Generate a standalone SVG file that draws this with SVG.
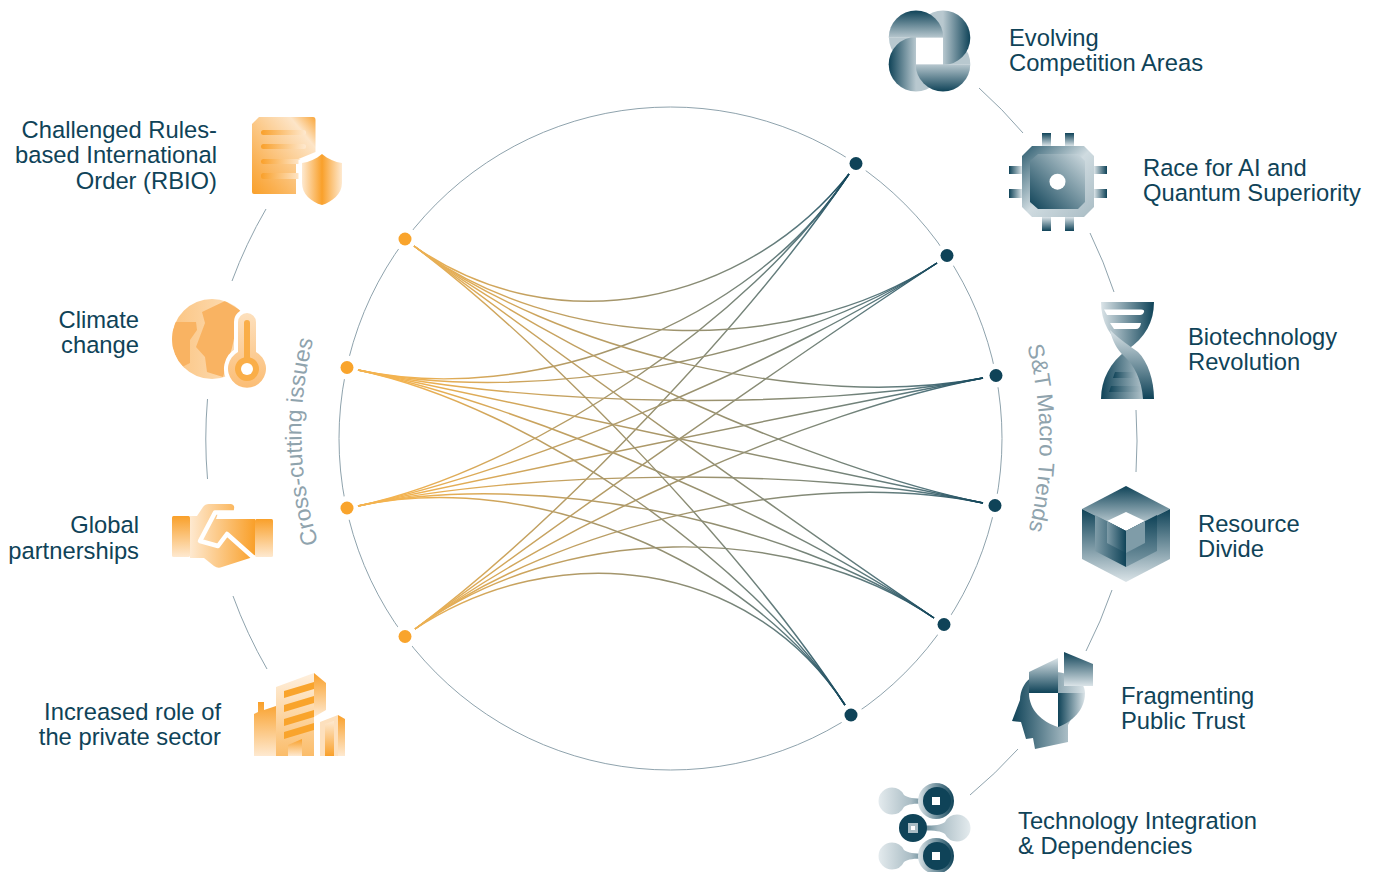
<svg xmlns="http://www.w3.org/2000/svg" xmlns:xlink="http://www.w3.org/1999/xlink" width="1376" height="872" viewBox="0 0 1376 872">
<style>
text{font-family:"Liberation Sans",Arial,sans-serif}
.lb{font-size:23.75px;fill:#0f4358}
.e{text-anchor:end}
.cur{font-size:22.9px;fill:#8fa3ad}
.ring{fill:none;stroke:#8fa3ad;stroke-width:1}
.c{fill:none;stroke-width:1.45}
.h{fill:#fff}
.o{fill:#f9a42c}
.t{fill:#0f4358}
</style>
<defs>
<linearGradient id="tV" x1="0" y1="0" x2="0" y2="1"><stop offset="0" stop-color="#0f4358"/><stop offset="1" stop-color="#dbe4e8"/></linearGradient>
<linearGradient id="tV2" x1="0" y1="0" x2="0" y2="1"><stop offset="0" stop-color="#dbe4e8"/><stop offset="1" stop-color="#0f4358"/></linearGradient>
<linearGradient id="tH" x1="0" y1="0" x2="1" y2="0"><stop offset="0" stop-color="#0f4358"/><stop offset="1" stop-color="#dbe4e8"/></linearGradient>
<linearGradient id="tH2" x1="0" y1="0" x2="1" y2="0"><stop offset="0" stop-color="#dbe4e8"/><stop offset="1" stop-color="#0f4358"/></linearGradient>
<linearGradient id="mV" x1="0" y1="0" x2="0" y2="1"><stop offset="0" stop-color="#0f4358"/><stop offset="1" stop-color="#b8c8cf"/></linearGradient>
<linearGradient id="mV2" x1="0" y1="0" x2="0" y2="1"><stop offset="0" stop-color="#b8c8cf"/><stop offset="1" stop-color="#0f4358"/></linearGradient>
<linearGradient id="mH" x1="0" y1="0" x2="1" y2="0"><stop offset="0" stop-color="#0f4358"/><stop offset="1" stop-color="#b8c8cf"/></linearGradient>
<linearGradient id="mH2" x1="0" y1="0" x2="1" y2="0"><stop offset="0" stop-color="#b8c8cf"/><stop offset="1" stop-color="#0f4358"/></linearGradient>
<linearGradient id="pL" x1="0" y1="0" x2="1" y2="0"><stop offset="0" stop-color="#e4ebee"/><stop offset=".7" stop-color="#a9bcc4"/><stop offset="1" stop-color="#5f8492"/></linearGradient>
<linearGradient id="pR" x1="0" y1="0" x2="1" y2="0"><stop offset="0" stop-color="#5f8492"/><stop offset=".3" stop-color="#a9bcc4"/><stop offset="1" stop-color="#e4ebee"/></linearGradient>
<linearGradient id="bH" x1="0" y1="0" x2="1" y2="0"><stop offset="0" stop-color="#7f9ca8"/><stop offset="1" stop-color="#0f4358"/></linearGradient>
<linearGradient id="bV" x1="0" y1="0" x2="0" y2="1"><stop offset="0" stop-color="#0f4358"/><stop offset="1" stop-color="#7f9ca8"/></linearGradient>
<linearGradient id="tD" x1="0" y1="1" x2="1" y2="0"><stop offset="0" stop-color="#0f4358"/><stop offset="1" stop-color="#cfdbe0"/></linearGradient>
<linearGradient id="tD2" x1="0" y1="0" x2="1" y2="1"><stop offset="0" stop-color="#2b5b6e"/><stop offset=".5" stop-color="#cfdbe0"/><stop offset="1" stop-color="#a9bcc4"/></linearGradient>
<linearGradient id="oV" x1="0" y1="0" x2="0" y2="1"><stop offset="0" stop-color="#f9a02a"/><stop offset="1" stop-color="#fee9d0"/></linearGradient>
<linearGradient id="oV2" x1="0" y1="0" x2="0" y2="1"><stop offset="0" stop-color="#fee9d0"/><stop offset="1" stop-color="#f9a02a"/></linearGradient>
<linearGradient id="oH" x1="0" y1="0" x2="1" y2="0"><stop offset="0" stop-color="#f9a02a"/><stop offset="1" stop-color="#fee9d0"/></linearGradient>
<linearGradient id="oH2" x1="0" y1="0" x2="1" y2="0"><stop offset="0" stop-color="#fee9d0"/><stop offset="1" stop-color="#f9a02a"/></linearGradient>
<linearGradient id="oD" x1="1" y1="0" x2="0" y2="1"><stop offset="0" stop-color="#f9a63a"/><stop offset=".2" stop-color="#fde5c8"/><stop offset=".8" stop-color="#faaf4e"/><stop offset="1" stop-color="#f9a02a"/></linearGradient>
<linearGradient id="oG" x1="0" y1="0" x2="1" y2="0"><stop offset="0" stop-color="#fbc583"/><stop offset="1" stop-color="#fde3c2"/></linearGradient>
<linearGradient id="oT" x1="0" y1="0" x2="0" y2="1"><stop offset="0" stop-color="#fde0bd"/><stop offset="1" stop-color="#fbbd75"/></linearGradient>
<linearGradient id="e1" gradientUnits="userSpaceOnUse" x1="400" y1="0" x2="849" y2="0"><stop offset="0" stop-color="#f3b350"/><stop offset=".45" stop-color="#a8976a"/><stop offset=".72" stop-color="#7f8878"/><stop offset=".9" stop-color="#55767d"/><stop offset="1" stop-color="#0f4358"/></linearGradient>
<linearGradient id="e2" gradientUnits="userSpaceOnUse" x1="400" y1="0" x2="937" y2="0"><stop offset="0" stop-color="#f3b350"/><stop offset=".45" stop-color="#a8976a"/><stop offset=".72" stop-color="#7f8878"/><stop offset=".9" stop-color="#55767d"/><stop offset="1" stop-color="#0f4358"/></linearGradient>
<linearGradient id="e3" gradientUnits="userSpaceOnUse" x1="400" y1="0" x2="983" y2="0"><stop offset="0" stop-color="#f3b350"/><stop offset=".45" stop-color="#a8976a"/><stop offset=".72" stop-color="#7f8878"/><stop offset=".9" stop-color="#55767d"/><stop offset="1" stop-color="#0f4358"/></linearGradient>
<linearGradient id="e5" gradientUnits="userSpaceOnUse" x1="400" y1="0" x2="934" y2="0"><stop offset="0" stop-color="#f3b350"/><stop offset=".45" stop-color="#a8976a"/><stop offset=".72" stop-color="#7f8878"/><stop offset=".9" stop-color="#55767d"/><stop offset="1" stop-color="#0f4358"/></linearGradient>
<linearGradient id="e6" gradientUnits="userSpaceOnUse" x1="400" y1="0" x2="845" y2="0"><stop offset="0" stop-color="#f3b350"/><stop offset=".45" stop-color="#a8976a"/><stop offset=".72" stop-color="#7f8878"/><stop offset=".9" stop-color="#55767d"/><stop offset="1" stop-color="#0f4358"/></linearGradient>
<clipPath id="globe"><circle cx="212" cy="339" r="40"/></clipPath>
<path id="arcL" d="M319 545 A368 368 0 0 1 316 330"/>
<path id="arcR" d="M1027 345 A368 368 0 0 1 1026 540"/>
</defs>

<g id="rings">
<circle class="ring" cx="670.5" cy="438.5" r="331.5"/>
<path class="ring" d="M979 88 A465 465 0 0 1 1023 133"/>
<path class="ring" d="M1090 233 A465 465 0 0 1 1114 292"/>
<path class="ring" d="M1136 410 A465 465 0 0 1 1136 472"/>
<path class="ring" d="M1112 590 A465 465 0 0 1 1086 651"/>
<path class="ring" d="M1018 749 A465 465 0 0 1 970 795"/>
<path class="ring" d="M266 209 A465 465 0 0 0 232 281"/>
<path class="ring" d="M207.5 399 A465 465 0 0 0 207.5 479"/>
<path class="ring" d="M233 596 A465 465 0 0 0 267 669"/>
</g>

<g id="dot-l1"><circle class="h" cx="405" cy="239" r="12"/><circle class="o" cx="405" cy="239" r="6.5"/></g>
<g id="dot-l2"><circle class="h" cx="347" cy="367.5" r="12"/><circle class="o" cx="347" cy="367.5" r="6.5"/></g>
<g id="dot-l3"><circle class="h" cx="347" cy="508" r="12"/><circle class="o" cx="347" cy="508" r="6.5"/></g>
<g id="dot-l4"><circle class="h" cx="405" cy="636.5" r="12"/><circle class="o" cx="405" cy="636.5" r="6.5"/></g>
<g id="dot-r1"><circle class="h" cx="856" cy="163.5" r="12"/><circle class="t" cx="856" cy="163.5" r="6.5"/></g>
<g id="dot-r2"><circle class="h" cx="947" cy="255.5" r="12"/><circle class="t" cx="947" cy="255.5" r="6.5"/></g>
<g id="dot-r3"><circle class="h" cx="996" cy="375.5" r="12"/><circle class="t" cx="996" cy="375.5" r="6.5"/></g>
<g id="dot-r4"><circle class="h" cx="995" cy="505.5" r="12"/><circle class="t" cx="995" cy="505.5" r="6.5"/></g>
<g id="dot-r5"><circle class="h" cx="944" cy="624.5" r="12"/><circle class="t" cx="944" cy="624.5" r="6.5"/></g>
<g id="dot-r6"><circle class="h" cx="851" cy="715" r="12"/><circle class="t" cx="851" cy="715" r="6.5"/></g>

<g id="connectors">
<g class="c" stroke="url(#e1)">
<path d="M414 246 C555 345 745 305 849 174"/>
<path d="M358 370 C530 407 751 325 849 174"/>
<path d="M358 506 C530 469 751 319 849 174"/>
<path d="M415 629 C556 524 751 319 849 174"/>
</g>
<g class="c" stroke="url(#e2)">
<path d="M414 246 C555 352 791 359 937 263"/>
<path d="M358 370 C530 407 791 359 937 263"/>
<path d="M358 506 C530 469 791 359 937 263"/>
<path d="M415 629 C556 524 791 359 937 263"/>
</g>
<g class="c" stroke="url(#e3)">
<path d="M414 246 C555 352 811 411 983 378"/>
<path d="M358 370 C530 407 811 411 983 378"/>
<path d="M358 506 C530 469 811 411 983 378"/>
<path d="M415 629 C556 524 811 411 983 378"/>
</g>
<g class="c" stroke="url(#e3)">
<path d="M414 246 C555 352 811 467 983 503"/>
<path d="M358 370 C530 407 811 467 983 503"/>
<path d="M358 506 C530 469 811 467 983 503"/>
<path d="M415 629 C556 524 811 467 983 503"/>
</g>
<g class="c" stroke="url(#e5)">
<path d="M414 246 C555 352 789 519 934 618"/>
<path d="M358 370 C530 407 789 519 934 618"/>
<path d="M358 506 C530 469 789 519 934 618"/>
<path d="M415 629 C556 524 789 519 934 618"/>
</g>
<g class="c" stroke="url(#e6)">
<path d="M414 246 C555 352 749 558 845 705"/>
<path d="M358 370 C530 407 749 558 845 705"/>
<path d="M358 506 C530 469 749 558 845 705"/>
<path d="M415 629 C556 536 749 558 845 705"/>
</g>
</g>

<text class="cur"><textPath href="#arcL" xlink:href="#arcL" startOffset="2">Cross-cutting issues</textPath></text>
<text class="cur" style="font-size:22.4px"><textPath href="#arcR" xlink:href="#arcR" startOffset="1">S&amp;T Macro Trends</textPath></text>

<g id="evolving">
<path d="M889 37.7 A27.3 27.3 0 0 0 916 65 V37.7Z" fill="#b8c8cf"/>
<path d="M943 10.4 A27.3 27.3 0 0 0 916 37.7 H943Z" fill="#b8c8cf"/>
<path d="M970.3 64.3 A27.3 27.3 0 0 0 943 37 V64.3Z" fill="#b8c8cf"/>
<path d="M916 91.6 A27.3 27.3 0 0 0 943 64.3 H916Z" fill="#b8c8cf"/>
<path d="M888.7 37.7 A27.3 27.3 0 0 1 943.3 37.7Z" fill="url(#mV)"/>
<path d="M943 10.4 A27.3 27.3 0 0 1 943 65Z" fill="url(#mH2)"/>
<path d="M970.3 64.3 A27.3 27.3 0 0 1 915.7 64.3Z" fill="url(#mV2)"/>
<path d="M916 91.6 A27.3 27.3 0 0 1 916 37Z" fill="url(#mH)"/>
<rect class="h" x="916" y="37.7" width="27" height="26.6"/>
<text class="lb" x="1009" y="46">Evolving</text>
<text class="lb" x="1009" y="71">Competition Areas</text>
</g>

<g id="ai-quantum">
<rect x="1042" y="133" width="9" height="13" fill="url(#tV)"/><rect x="1065" y="133" width="9" height="13" fill="url(#tV)"/>
<rect x="1042" y="217" width="9" height="14" fill="url(#tV2)"/><rect x="1065" y="217" width="9" height="14" fill="url(#tV2)"/>
<rect x="1009" y="166" width="13" height="8" fill="url(#tH)"/><rect x="1009" y="189" width="13" height="9" fill="url(#tH)"/>
<rect x="1094" y="166" width="13" height="8" fill="url(#tH2)"/><rect x="1094" y="189" width="13" height="9" fill="url(#tH2)"/>
<path d="M1032 146 H1084 L1094 156 V207 L1084 217 H1032 L1022 207 V156Z" fill="url(#tD2)"/>
<path d="M1038 154 H1078 L1085 161 V202 L1078 209 H1038 L1030 202 V161Z" fill="url(#tD)"/>
<circle class="h" cx="1057.5" cy="181.7" r="8"/>
<text class="lb" x="1143" y="176">Race for AI and</text>
<text class="lb" x="1143" y="201">Quantum Superiority</text>
</g>

<g id="biotech">
<path d="M1101 302 H1154 C1154 322 1145 338 1127 350 C1110 338 1101 322 1101 302Z" fill="url(#tH2)"/>
<path d="M1127 350 C1145 362 1154 380 1154 399 H1101 C1101 380 1110 362 1127 350Z" fill="url(#tH)"/>
<path d="M1104 309.5 H1141 Q1145 309.5 1144 312 Q1143 315 1140 315 H1107Z" class="h"/>
<path d="M1110 323 H1141 Q1140 329 1136 329 H1114Z" class="h"/>
<path d="M1115 372 H1144 L1147 378 H1113Z" fill="url(#tH)"/>
<path d="M1111 386 H1150 L1152 392 H1109Z" fill="url(#tH)"/>
<path d="M1110 330 C1120 340 1130 346 1138 352 C1148 362 1154 380 1154 399 H1143 C1142 380 1134 365 1124 356 C1117 350 1112 340 1110 330Z" fill="url(#tV2)"/>
<text class="lb" x="1188" y="345">Biotechnology</text>
<text class="lb" x="1188" y="370">Revolution</text>
</g>

<g id="resource">
<path d="M1126 486 L1170 509 L1126 531 L1082 509Z" fill="url(#tV)"/>
<path d="M1126 512 L1145 521 L1126 531 L1107 521Z" class="h"/>
<path d="M1082 509 L1126 531 V582 L1082 559Z" fill="url(#tV)"/>
<path d="M1170 509 L1126 531 V582 L1170 559Z" fill="url(#tV)"/>
<path d="M1095 515 L1126 531 V567 L1095 551Z" fill="url(#bH)"/>
<path d="M1157 515 L1126 531 V567 L1157 551Z" fill="url(#bV)"/>
<path d="M1107 521 L1126 531 V553 L1107 543Z" fill="url(#bH)"/>
<path d="M1145 521 L1126 531 V553 L1145 543Z" fill="#7f9ca8"/>
<text class="lb" x="1198" y="532">Resource</text>
<text class="lb" x="1198" y="557">Divide</text>
</g>

<g id="trust">
<path d="M1012 721 L1020 700 C1021 680 1035 672 1052 672 C1070 672 1085 680 1085 693 L1068 725 V742 L1035 749 L1033 738 L1026 739 L1021 722Z" fill="url(#tH)"/>
<path d="M1029 672 L1058 658 V693 H1029Z" fill="url(#tV2)"/>
<path d="M1064 652 L1093 664 V686 H1064Z" fill="url(#tV)"/>
<path d="M1029 693 H1058 V727 C1042 722 1029 710 1029 693Z" class="h"/>
<path d="M1058 693 H1085 C1085 710 1072 722 1058 727Z" fill="url(#tH)"/>
<text class="lb" x="1121" y="704">Fragmenting</text>
<text class="lb" x="1121" y="729">Public Trust</text>
</g>

<g id="integration">
<path d="M892 787.5 A13.5 13.5 0 0 0 892 814.5 A13.5 13.5 0 0 0 904 807 C908 804 914 803.5 925 803.5 V798.5 C914 798.5 908 798 904 795 A13.5 13.5 0 0 0 892 787.5Z" fill="url(#pL)"/>
<circle cx="936" cy="801" r="18" fill="url(#tH2)"/><circle class="t" cx="937" cy="801" r="14"/><rect class="h" x="932" y="797" width="8" height="8"/>
<path d="M957 814.5 A13.5 13.5 0 0 1 957 841.5 A13.5 13.5 0 0 1 945 834 C941 831 935 830.5 924 830.5 V825.5 C935 825.5 941 825 945 822 A13.5 13.5 0 0 1 957 814.5Z" fill="url(#pR)"/>
<circle class="t" cx="913" cy="828" r="14"/><rect x="908" y="823" width="10" height="10" fill="#a9bcc4"/><rect class="h" x="911" y="826" width="4" height="4"/>
<path d="M892 842.5 A13.5 13.5 0 0 0 892 869.5 A13.5 13.5 0 0 0 904 862 C908 859 914 858.5 925 858.5 V853.5 C914 853.5 908 853 904 850 A13.5 13.5 0 0 0 892 842.5Z" fill="url(#pL)"/>
<circle cx="936" cy="856" r="18" fill="url(#tH2)"/><circle class="t" cx="937" cy="856" r="14"/><rect class="h" x="932" y="852" width="8" height="8"/>
<text class="lb" x="1018" y="829">Technology Integration</text>
<text class="lb" x="1018" y="854">&amp; Dependencies</text>
</g>

<g id="rbio">
<path d="M259 117 H313 Q315.5 117 315.5 120 V152 L296 160 V194 H254 Q252 194 252 192 V124Z" fill="url(#oD)"/>
<rect x="261" y="130" width="45" height="5" rx="2.5" fill="url(#oH)"/>
<rect x="261" y="144" width="45" height="5" rx="2.5" fill="url(#oH)"/>
<rect x="261" y="159" width="40" height="5" rx="2.5" fill="url(#oH)"/>
<rect x="261" y="173" width="40" height="6" rx="2.5" fill="url(#oH)"/>
<path d="M322 154 C328 159 335 162 342 163 V183 C342 194 332 202 322 205 C311 202 302 194 302 183 V163 C309 162 316 159 322 154Z" fill="#fff" stroke="#fff" stroke-width="7"/>
<path d="M322 154 C316 159 309 162 302 163 V183 C302 194 311 202 322 205Z" fill="url(#oH2)"/>
<path d="M322 154 C328 159 335 162 342 163 V183 C342 194 332 202 322 205Z" fill="url(#oH)"/>
<text class="lb e" x="217" y="138">Challenged Rules-</text>
<text class="lb e" x="217" y="163">based International</text>
<text class="lb e" x="217" y="189">Order (RBIO)</text>
</g>

<g id="climate">
<circle cx="212" cy="339" r="40" fill="url(#oG)"/>
<g clip-path="url(#globe)" fill="#f9b362">
<path d="M202 312 L225 301 L240 310 L232 348 L223 377 L207 372 L205 357 L196 347 L205 323Z"/>
<path d="M175 322 L196 322 L197 330 L190 340 L190 363 L180 368 L170 340Z"/>
</g>
<path d="M238 322 a9 9 0 0 1 18 0 V352 a19 19 0 1 1 -18 0 Z" fill="#fff" stroke="#fff" stroke-width="8"/>
<path d="M238 322 a9 9 0 0 1 18 0 V352 a19 19 0 1 1 -18 0 Z" fill="url(#oT)"/>
<path d="M244 323 a3 3 0 0 1 6 0 V357.4 a12 12 0 1 1 -6 0Z" fill="#faae48"/>
<circle class="h" cx="247" cy="369" r="6"/>
<text class="lb e" x="139" y="328">Climate</text>
<text class="lb e" x="139" y="353">change</text>
</g>

<g id="partnerships">
<rect x="172" y="516" width="18" height="41" rx="1.5" fill="url(#oV)"/>
<rect x="255" y="519" width="18" height="38" rx="1.5" fill="url(#oV)"/>
<path d="M190 516 H197 L203 507 Q205 504 209 504 H231 Q235 505 234 509 Q234 513 230 513 H218 L216 519 H255 V555 L250 558 L222 567 Q218 569 214 566 L204 558 H190Z" fill="url(#oH2)"/>
<path d="M236 512.5 H215 L200 541 L218 546 L227 534 L254 558" fill="none" stroke="#fff" stroke-width="4.5" stroke-linejoin="round"/>
<text class="lb e" x="139" y="533">Global</text>
<text class="lb e" x="139" y="559">partnerships</text>
</g>

<g id="private-sector">
<path d="M258 702 H264 V710 L276 706 V756 H254 V714 L258 712Z" fill="url(#oV)"/>
<path d="M276 687 L314 673 V756 H276Z" fill="url(#oV2)" opacity=".7"/>
<path d="M314 673 L326 683 V710 L314 717Z" fill="url(#oV)"/>
<path d="M284 691 L314 682 V689 L284 698Z M284 705 L314 696 V703 L284 712Z M284 719 L314 710 V717 L284 726Z M284 732 L314 723 V730 L284 739Z" fill="#f9a42c"/>
<path d="M288 745 L302 739 V756 H288Z" fill="url(#oV)"/>
<path d="M314 718 L338 712 L320 718 V756 H314Z" class="h"/>
<path d="M320 722 L338 715 V756 H320Z" fill="#fde0bd"/>
<path d="M325 724 L334 721 V756 H325Z" fill="url(#oV2)"/>
<path d="M338 715 L345 719 V756 H338Z" fill="url(#oV)"/>
<text class="lb e" x="221" y="720">Increased role of</text>
<text class="lb e" x="221" y="745">the private sector</text>
</g>
</svg>
